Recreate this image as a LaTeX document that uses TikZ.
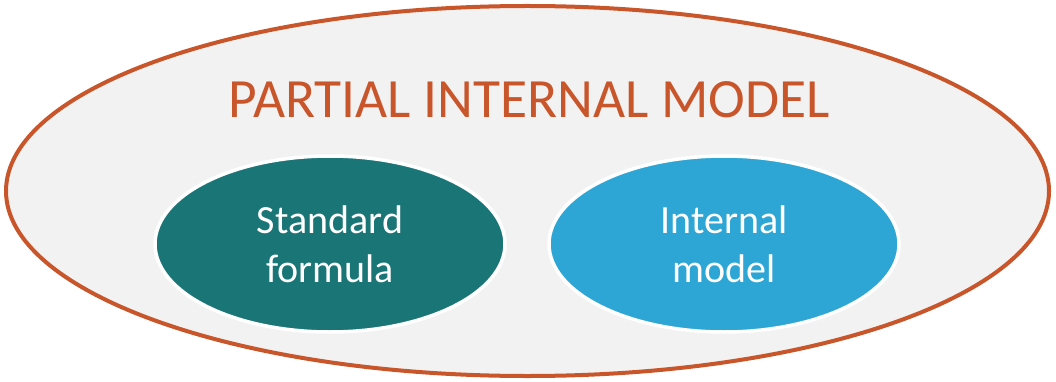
\documentclass[tikz,border=0pt]{standalone}
\usepackage{fontspec}
\setmainfont{Carlito}
\usetikzlibrary{shapes.geometric}
\definecolor{rust}{HTML}{C9552A}
\definecolor{paleGray}{HTML}{F2F2F2}
\definecolor{deepTeal}{HTML}{1A7577}
\definecolor{sky}{HTML}{2EA6D5}

\begin{document}
\begin{tikzpicture}[x=1pt,y=-1pt,
	blob/.style={ellipse,draw=white,line width=3.5pt,text=white,align=center,
		font=\fontsize{40}{49}\selectfont,inner sep=0pt,
		minimum width=350pt,minimum height=176pt}]
	\useasboundingbox (0,0) rectangle (1056,382);
	\node[ellipse,draw=rust,fill=paleGray,line width=4pt,
		minimum width=1043pt,minimum height=370pt] (pim) at (527.5,191) {};
	\node[font=\fontsize{55.4}{66}\selectfont,text=rust,anchor=base] (title) at (529,118) {PARTIAL INTERNAL MODEL};
	\node[blob,fill=deepTeal] (sf) at (330,244) {Standard\\formula};
	\node[blob,fill=sky] (im) at (724,244) {Internal\\model};
\end{tikzpicture}
\end{document}
